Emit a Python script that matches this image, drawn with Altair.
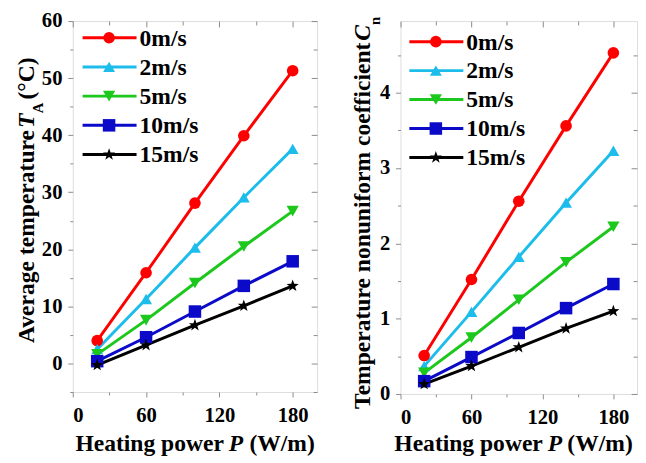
import altair as alt
import pandas as pd

# ---------------- data ----------------
P = [20, 60, 100, 140, 180]
series = ["0m/s", "2m/s", "5m/s", "10m/s", "15m/s"]

ta_0 = [4.0, 15.9, 28.1, 39.9, 51.3]
ta_2 = [2.5, 11.3, 20.3, 29.1, 37.6]
ta_5 = [1.6, 7.6, 14.1, 20.5, 26.7]
ta_10 = [0.4, 4.6, 9.1, 13.6, 17.9]
ta_15 = [-0.3, 3.2, 6.7, 10.1, 13.6]

cn_0 = [0.51, 1.52, 2.56, 3.56, 4.53]
cn_2 = [0.37, 1.09, 1.82, 2.54, 3.23]
cn_5 = [0.28, 0.75, 1.25, 1.75, 2.22]
cn_10 = [0.17, 0.49, 0.81, 1.14, 1.46]
cn_15 = [0.13, 0.37, 0.62, 0.87, 1.10]

x_major = [0, 60, 120, 180]
x_minor = [30, 90, 150]
ta_major = [0, 10, 20, 30, 40, 50, 60]
ta_minor = [-5, 5, 15, 25, 35, 45, 55]
cn_major = [0, 1, 2, 3, 4]
cn_minor = [0.5, 1.5, 2.5, 3.5, 4.5]

colors = ["#FF0000", "#1CBCEB", "#1CC81C", "#0A0AC8", "#000000"]
STAR = ("M0,-1L0.235,-0.324L0.951,-0.309L0.380,0.124L0.588,0.809L0,0.4"
        "L-0.588,0.809L-0.380,0.124L-0.951,-0.309L-0.235,-0.324Z")
shapes = ["circle", "triangle-up", "triangle-down", "square", STAR]
sizes = [140, 170, 170, 110, 380]

FONT = "'Liberation Serif', 'Times New Roman', serif"
GRAY = "#8a8a8a"


def long_df(vals):
    rows = []
    for s, v in zip(series, vals):
        for p, y in zip(P, v):
            rows.append({"series": s, "P": p, "v": y})
    return pd.DataFrame(rows)


ta_df = long_df([ta_0, ta_2, ta_5, ta_10, ta_15])
cn_df = long_df([cn_0, cn_2, cn_5, cn_10, cn_15])
leg_df = pd.DataFrame({"series": series})

color_scale = alt.Scale(domain=series, range=colors)
shape_scale = alt.Scale(domain=series, range=shapes)
size_scale = alt.Scale(domain=series, range=sizes)


def tick_axis(orient, values, size, labels=False, inward=False):
    kw = dict(orient=orient, values=values, tickSize=size, tickColor=GRAY,
              tickWidth=1, domain=False, grid=False, title=None, labels=labels)
    if inward:
        kw["offset"] = -size
    if labels:
        kw.update(labelFont=FONT, labelFontSize=21, labelFontWeight="bold",
                  labelColor="black", labelPadding=6 if orient == "left" else 8)
    return alt.Axis(**kw)


def text_piece(txt, x, y, size=24, angle=0, align="left", italic=False,
               baseline="alphabetic"):
    return alt.Chart(pd.DataFrame({"t": [txt]})).mark_text(
        align=align, baseline=baseline, angle=angle, font=FONT, fontSize=size,
        fontWeight="bold", fontStyle="italic" if italic else "normal",
        color="black",
    ).encode(x=alt.value(x), y=alt.value(y), text="t:N")


def panel(df, ydomain, ymajor, yminor, w, h, leg_rows, leg_x, titles):
    xs = alt.Scale(domain=[0, 200], nice=False, zero=False)
    ys = alt.Scale(domain=ydomain, nice=False, zero=False)
    base = alt.Chart(df)
    line = base.mark_line(strokeWidth=3).encode(
        x=alt.X("P:Q", scale=xs, axis=tick_axis("bottom", x_major, 5, labels=True)),
        y=alt.Y("v:Q", scale=ys, axis=tick_axis("left", ymajor, 5, labels=True)),
        color=alt.Color("series:N", scale=color_scale, legend=None),
        detail="series:N",
    )
    pts = base.mark_point(filled=True, opacity=1).encode(
        x=alt.X("P:Q", scale=xs, axis=tick_axis("bottom", x_minor, 3)),
        y=alt.Y("v:Q", scale=ys, axis=tick_axis("left", yminor, 3)),
        color=alt.Color("series:N", scale=color_scale, legend=None),
        shape=alt.Shape("series:N", scale=shape_scale, legend=None),
        size=alt.Size("series:O", scale=size_scale, legend=None),
    )
    mirror1 = base.mark_point(opacity=0).encode(
        x=alt.X("P:Q", scale=xs, axis=tick_axis("top", x_major, 6, inward=True)),
        y=alt.Y("v:Q", scale=ys, axis=tick_axis("right", ymajor, 6, inward=True)),
    )
    mirror2 = base.mark_point(opacity=0).encode(
        x=alt.X("P:Q", scale=xs, axis=tick_axis("top", x_minor, 4, inward=True)),
        y=alt.Y("v:Q", scale=ys, axis=tick_axis("right", yminor, 4, inward=True)),
    )
    ly = alt.Y("series:N",
               scale=alt.Scale(type="point", domain=series, range=leg_rows, padding=0),
               axis=None)
    lbase = alt.Chart(leg_df)
    lrule = lbase.mark_rule(strokeWidth=3).encode(
        x=alt.value(leg_x), x2=alt.value(leg_x + 55), y=ly,
        color=alt.Color("series:N", scale=color_scale, legend=None),
    )
    lpt = lbase.mark_point(filled=True, opacity=1).encode(
        x=alt.value(leg_x + 27), y=ly,
        color=alt.Color("series:N", scale=color_scale, legend=None),
        shape=alt.Shape("series:N", scale=shape_scale, legend=None),
        size=alt.Size("series:O", scale=size_scale, legend=None),
    )
    ltxt = lbase.mark_text(align="left", baseline="middle", font=FONT, fontSize=24,
                           fontWeight="bold", color="black", dy=1).encode(
        x=alt.value(leg_x + 58), y=ly, text="series:N",
    )
    layers = [line, pts, mirror1, mirror2, lrule, lpt, ltxt] + titles
    return alt.layer(*layers).resolve_scale(y="independent").resolve_axis(
        x="independent", y="independent"
    ).properties(width=w, height=h)


left_titles = [
    text_piece("Heating power", 154, 438, align="right"),
    text_piece("P", 159, 438, italic=True),
    text_piece("(W/m)", 180, 438),
    text_piece("Average temperature", -40, 111, angle=270, align="right"),
    text_piece("T", -40, 109, angle=270, italic=True),
    text_piece("A", -30, 94, size=15, angle=270),
    text_piece("(\u00b0C)", -40, 80, angle=270),
]
right_titles = [
    text_piece("Heating power", 145, 438, align="right"),
    text_piece("P", 150, 438, italic=True),
    text_piece("(W/m)", 170, 438),
    text_piece("Temperature nonuniform coefficient", -31, 22, angle=270, align="right"),
    text_piece("C", -31, 20, angle=270, italic=True),
    text_piece("n", -21, 4, size=15, angle=270),
]

left = panel(ta_df, [-5, 60], ta_major, ta_minor, 249, 378,
             [17, 136], 10, left_titles)
right = panel(cn_df, [0, 4.952], cn_major, cn_minor, 241, 380,
              [21, 139], 9, right_titles)

chart = alt.hconcat(left, right, spacing=33).properties(
    padding={"left": 6, "top": -3, "right": 0, "bottom": 0}
).configure_view(stroke=GRAY, strokeWidth=1).configure(background="white")

chart.save("out.html", embed_options={"renderer": "svg", "actions": False})
